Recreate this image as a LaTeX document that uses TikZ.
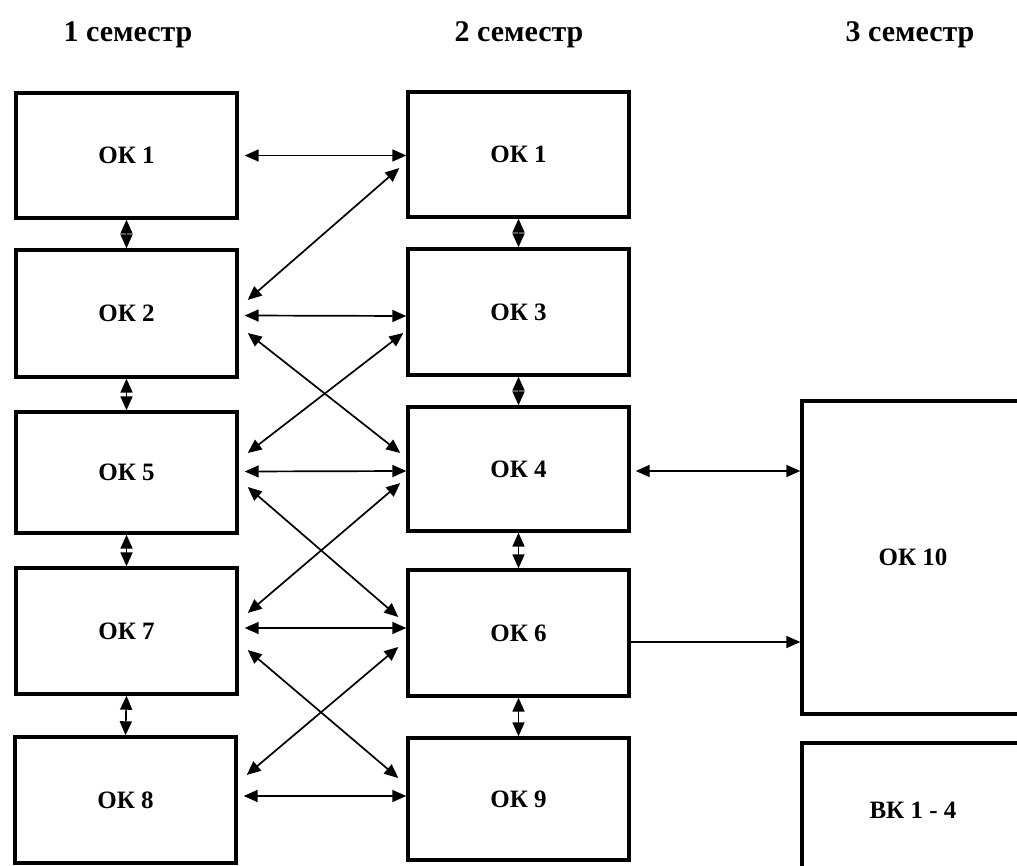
\documentclass[tikz,border=0pt]{standalone}
\usepackage{fontspec}
\setmainfont{Liberation Serif}
\usetikzlibrary{arrows.meta,calc}
\begin{document}
\begin{tikzpicture}[x=1pt,y=-1pt,
  box/.style={draw,line width=3.4pt,fill=white,minimum width=221pt,minimum height=125pt,inner sep=0pt,font=\fontsize{25}{30}\selectfont\bfseries},
  head/.style={anchor=base,font=\fontsize{30}{36}\selectfont\bfseries},
  dbl/.style={line width=1.7pt,{Triangle[length=14pt,width=12pt]}-{Triangle[length=14pt,width=12pt]}},
  sgl/.style={line width=1.7pt,-{Triangle[length=14pt,width=12pt]}}]
\useasboundingbox (0,0) rectangle (1017,866);
\clip (0,0) rectangle (1017,866);
% headings
\node[head] (h1) at (128,42) {1 семестр};
\node[head] (h2) at (519,42) {2 семестр};
\node[head] (h3) at (910,42) {3 семестр};
% left column
\node[box] (L1) at (126.5,155.5) {ОК 1};
\node[box,minimum height=127pt] (L2) at (126.5,313.5) {ОК 2};
\node[box,minimum height=121pt] (L5) at (126.5,472.5) {ОК 5};
\node[box,minimum height=126pt] (L7) at (126.5,631) {ОК 7};
\node[box,minimum height=126pt] (L8) at (125.5,800) {ОК 8};
% middle column
\node[box] (M1) at (518.5,154.5) {ОК 1};
\node[box,minimum height=126pt] (M3) at (518.5,312) {ОК 3};
\node[box,minimum height=124pt] (M4) at (518.5,469) {ОК 4};
\node[box,minimum height=126pt] (M6) at (518.5,633) {ОК 6};
\node[box,minimum height=122pt] (M9) at (518.5,799) {ОК 9};
% right column
\node[box,minimum width=222pt,minimum height=313pt] (K10) at (913,557.5) {ОК 10};
\node[box,minimum width=222pt,minimum height=134pt] (VK) at (913,810) {ВК 1 - 4};
% vertical arrows
\draw[dbl] (L1.south) -- (L2.north);
\draw[dbl] (L2.south) -- (L5.north);
\draw[dbl] (L5.south) -- (L7.north);
\draw[dbl] (L7.south) -- (L8.north);
\draw[dbl] (M1.south) -- (M3.north);
\draw[dbl] (M3.south) -- (M4.north);
\draw[dbl] (M4.south) -- (M6.north);
\draw[dbl] (M6.south) -- (M9.north);
% horizontal arrows
\draw[dbl] ($(L1.east)+(6,0)$) -- (M1.west |- L1.east);
\draw[dbl] ($(L2.east)+(6,2)$) -- ($(M3.west)+(0,4)$);
\draw[dbl] ($(L5.east)+(6,-1)$) -- ($(M4.west)+(0,2)$);
\draw[dbl] ($(L7.east)+(6,-3)$) -- ($(M6.west)+(0,-5)$);
\draw[dbl] ($(L8.east)+(6,-4)$) -- ($(M9.west)+(0,-3)$);
% diagonals
\draw[dbl] ($(L2.east)+(9,-13.5)$) -- ($(M1.west)+(-7,13.5)$);
\draw[dbl] ($(L2.east)+(9,19.5)$) -- ($(M4.west)+(-6,-16)$);
\draw[dbl] ($(L5.east)+(9,-19.5)$) -- ($(M3.west)+(-3,21)$);
\draw[dbl] ($(L5.east)+(9,14.5)$) -- ($(M6.west)+(-8,-16)$);
\draw[dbl] ($(L7.east)+(9,-18)$) -- ($(M4.west)+(-6,14)$);
\draw[dbl] ($(L7.east)+(9,19)$) -- ($(M9.west)+(-8,-21)$);
\draw[dbl] ($(L8.east)+(9,-25)$) -- ($(M6.west)+(-8,14)$);
% to OK 10
\draw[dbl] ($(M4.east)+(5,2)$) -- (K10.west |- {$(M4.east)+(5,2)$});
\coordinate (m6r) at ($(M6.east)+(0,9)$);
\draw[sgl] (m6r) -- (K10.west |- m6r);
\end{tikzpicture}
\end{document}
